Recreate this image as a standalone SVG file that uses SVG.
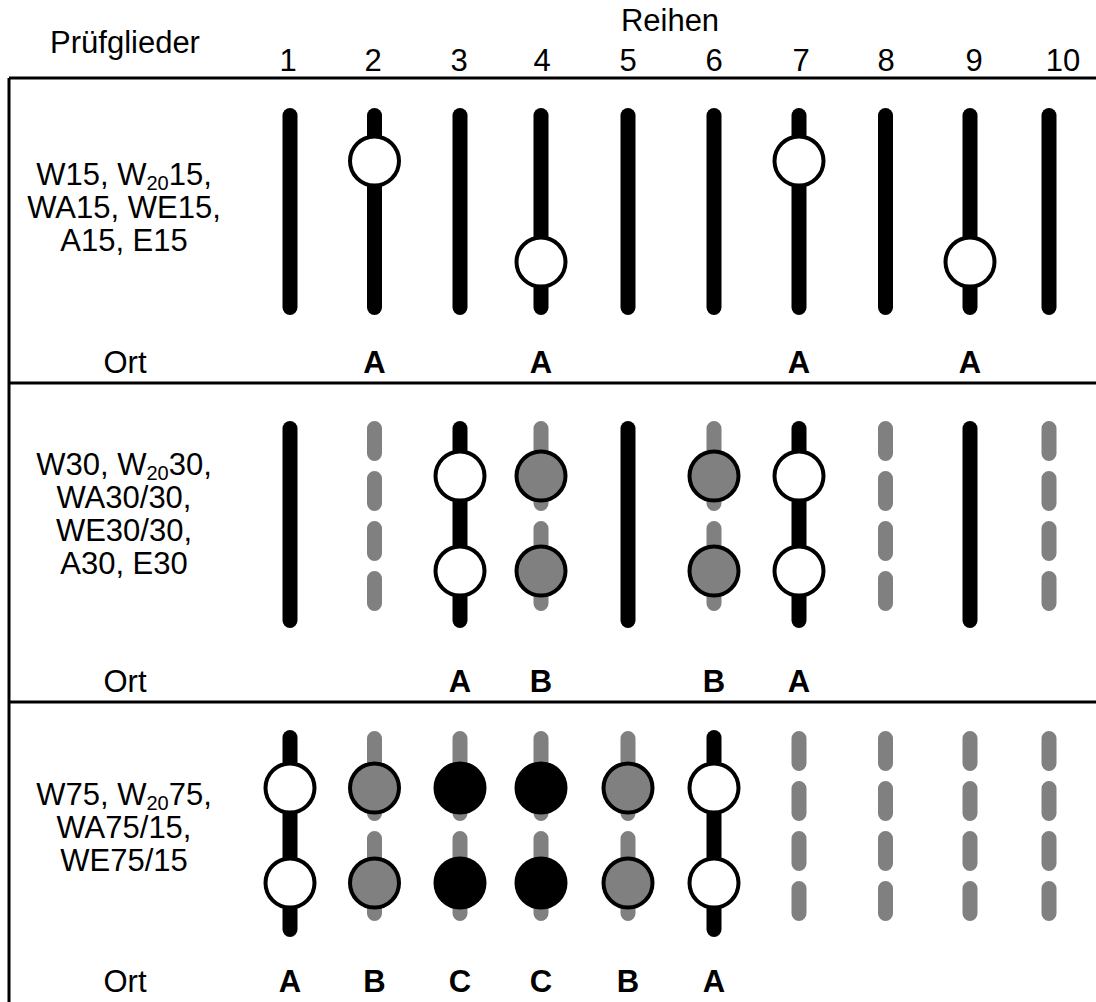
<svg xmlns="http://www.w3.org/2000/svg" width="1096" height="1002" viewBox="0 0 1096 1002">
<style>
text{font-family:"Liberation Sans",Arial,sans-serif;font-size:31px;fill:#000}
.c{text-anchor:middle}
.b{font-weight:bold}
.sub{font-size:20px}
.frame{stroke:#000;stroke-width:3;fill:none}
.bar{stroke:#000;stroke-width:15;stroke-linecap:round}
.dash{stroke:#808080;stroke-width:15;stroke-linecap:round;stroke-dasharray:25 25}
.w{fill:#fff;stroke:#000;stroke-width:4}
.g{fill:#808080;stroke:#000;stroke-width:4}
.k{fill:#000;stroke:#000;stroke-width:4}
</style>
<g id="frame">
<line class="frame" x1="9" y1="78" x2="1096" y2="78"/>
<line class="frame" x1="9" y1="383" x2="1096" y2="383"/>
<line class="frame" x1="9" y1="702" x2="1096" y2="702"/>
<line class="frame" x1="9" y1="78" x2="9" y2="1002"/>
</g>
<g id="header">
<text class="c" x="125" y="53">Prüfglieder</text>
<text class="c" x="670" y="31">Reihen</text>
<text class="c" x="288" y="71">1</text>
<text class="c" x="373" y="71">2</text>
<text class="c" x="459" y="71">3</text>
<text class="c" x="542" y="71">4</text>
<text class="c" x="628" y="71">5</text>
<text class="c" x="714" y="71">6</text>
<text class="c" x="801" y="71">7</text>
<text class="c" x="886" y="71">8</text>
<text class="c" x="974" y="71">9</text>
<text class="c" x="1063" y="71">10</text>
</g>
<g id="labels">
<g id="label-row1">
<text class="c" x="124" y="185">W15, W<tspan class="sub" dy="5">20</tspan><tspan dy="-5">15,</tspan></text>
<text class="c" x="124" y="218">WA15, WE15,</text>
<text class="c" x="124" y="251">A15, E15</text>
<text class="c" x="125" y="373">Ort</text>
</g>
<g id="label-row2">
<text class="c" x="124" y="475">W30, W<tspan class="sub" dy="5">20</tspan><tspan dy="-5">30,</tspan></text>
<text class="c" x="124" y="508">WA30/30,</text>
<text class="c" x="124" y="541">WE30/30,</text>
<text class="c" x="124" y="574">A30, E30</text>
<text class="c" x="125" y="692">Ort</text>
</g>
<g id="label-row3">
<text class="c" x="124" y="805">W75, W<tspan class="sub" dy="5">20</tspan><tspan dy="-5">75,</tspan></text>
<text class="c" x="124" y="838">WA75/15,</text>
<text class="c" x="124" y="871">WE75/15</text>
<text class="c" x="125" y="992">Ort</text>
</g>
</g>
<g id="row1">
<g id="r1c1"><line class="bar" x1="290" y1="115.5" x2="290" y2="307.5"/></g>
<g id="r1c2"><line class="bar" x1="374.5" y1="115.5" x2="374.5" y2="307.5"/><circle class="w" cx="374.5" cy="161" r="24.5"/><text class="c b" x="374.5" y="373">A</text></g>
<g id="r1c3"><line class="bar" x1="460" y1="115.5" x2="460" y2="307.5"/></g>
<g id="r1c4"><line class="bar" x1="541" y1="115.5" x2="541" y2="307.5"/><circle class="w" cx="541" cy="262" r="24.5"/><text class="c b" x="541" y="373">A</text></g>
<g id="r1c5"><line class="bar" x1="628" y1="115.5" x2="628" y2="307.5"/></g>
<g id="r1c6"><line class="bar" x1="714" y1="115.5" x2="714" y2="307.5"/></g>
<g id="r1c7"><line class="bar" x1="799" y1="115.5" x2="799" y2="307.5"/><circle class="w" cx="799" cy="161" r="24.5"/><text class="c b" x="799" y="373">A</text></g>
<g id="r1c8"><line class="bar" x1="885.5" y1="115.5" x2="885.5" y2="307.5"/></g>
<g id="r1c9"><line class="bar" x1="970" y1="115.5" x2="970" y2="307.5"/><circle class="w" cx="970" cy="262" r="24.5"/><text class="c b" x="970" y="373">A</text></g>
<g id="r1c10"><line class="bar" x1="1049" y1="115.5" x2="1049" y2="307.5"/></g>
</g>
<g id="row2">
<g id="r2c1"><line class="bar" x1="290" y1="428.5" x2="290" y2="620.5"/></g>
<g id="r2c2"><line class="dash" x1="374.5" y1="428.5" x2="374.5" y2="603.5"/></g>
<g id="r2c3"><line class="bar" x1="460" y1="428.5" x2="460" y2="620.5"/><circle class="w" cx="460" cy="476" r="24.5"/><circle class="w" cx="460" cy="571" r="24.5"/><text class="c b" x="460" y="692">A</text></g>
<g id="r2c4"><line class="dash" x1="541" y1="428.5" x2="541" y2="603.5"/><circle class="g" cx="541" cy="476" r="24.5"/><circle class="g" cx="541" cy="571" r="24.5"/><text class="c b" x="541" y="692">B</text></g>
<g id="r2c5"><line class="bar" x1="628" y1="428.5" x2="628" y2="620.5"/></g>
<g id="r2c6"><line class="dash" x1="714" y1="428.5" x2="714" y2="603.5"/><circle class="g" cx="714" cy="476" r="24.5"/><circle class="g" cx="714" cy="571" r="24.5"/><text class="c b" x="714" y="692">B</text></g>
<g id="r2c7"><line class="bar" x1="799" y1="428.5" x2="799" y2="620.5"/><circle class="w" cx="799" cy="476" r="24.5"/><circle class="w" cx="799" cy="571" r="24.5"/><text class="c b" x="799" y="692">A</text></g>
<g id="r2c8"><line class="dash" x1="885.5" y1="428.5" x2="885.5" y2="603.5"/></g>
<g id="r2c9"><line class="bar" x1="970" y1="428.5" x2="970" y2="620.5"/></g>
<g id="r2c10"><line class="dash" x1="1049" y1="428.5" x2="1049" y2="603.5"/></g>
</g>
<g id="row3">
<g id="r3c1"><line class="bar" x1="290" y1="737.5" x2="290" y2="929.5"/><circle class="w" cx="290" cy="788" r="24.5"/><circle class="w" cx="290" cy="883" r="24.5"/><text class="c b" x="290" y="992">A</text></g>
<g id="r3c2"><line class="dash" x1="374.5" y1="738.5" x2="374.5" y2="913.5"/><circle class="g" cx="374.5" cy="788" r="24.5"/><circle class="g" cx="374.5" cy="883" r="24.5"/><text class="c b" x="374.5" y="992">B</text></g>
<g id="r3c3"><line class="dash" x1="460" y1="738.5" x2="460" y2="913.5"/><circle class="k" cx="460" cy="788" r="24.5"/><circle class="k" cx="460" cy="883" r="24.5"/><text class="c b" x="460" y="992">C</text></g>
<g id="r3c4"><line class="dash" x1="541" y1="738.5" x2="541" y2="913.5"/><circle class="k" cx="541" cy="788" r="24.5"/><circle class="k" cx="541" cy="883" r="24.5"/><text class="c b" x="541" y="992">C</text></g>
<g id="r3c5"><line class="dash" x1="628" y1="738.5" x2="628" y2="913.5"/><circle class="g" cx="628" cy="788" r="24.5"/><circle class="g" cx="628" cy="883" r="24.5"/><text class="c b" x="628" y="992">B</text></g>
<g id="r3c6"><line class="bar" x1="714" y1="737.5" x2="714" y2="929.5"/><circle class="w" cx="714" cy="788" r="24.5"/><circle class="w" cx="714" cy="883" r="24.5"/><text class="c b" x="714" y="992">A</text></g>
<g id="r3c7"><line class="dash" x1="799" y1="738.5" x2="799" y2="913.5"/></g>
<g id="r3c8"><line class="dash" x1="885.5" y1="738.5" x2="885.5" y2="913.5"/></g>
<g id="r3c9"><line class="dash" x1="970" y1="738.5" x2="970" y2="913.5"/></g>
<g id="r3c10"><line class="dash" x1="1049" y1="738.5" x2="1049" y2="913.5"/></g>
</g>
</svg>
